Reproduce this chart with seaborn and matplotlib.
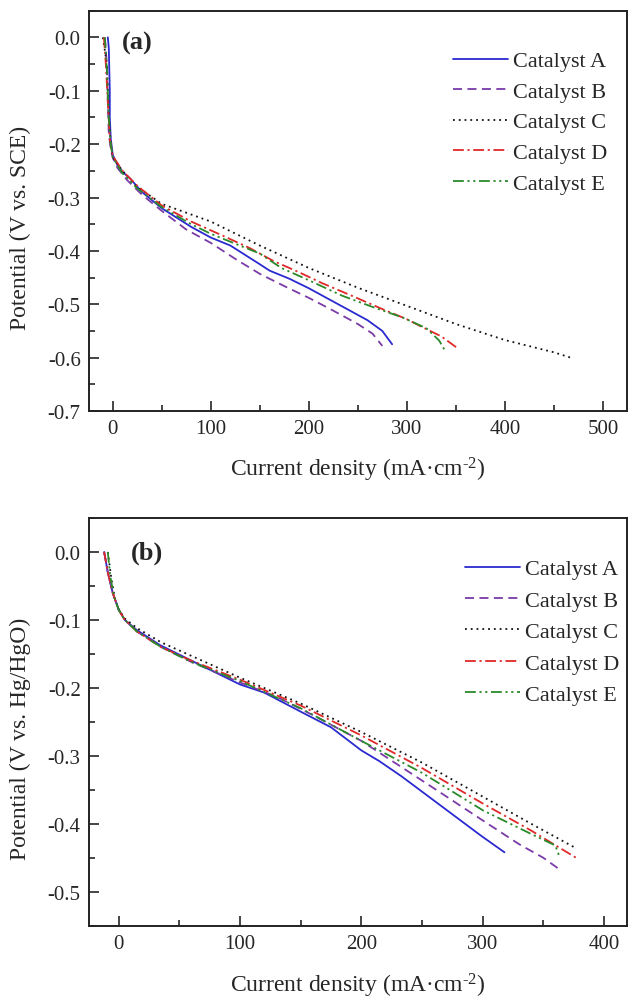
import numpy as np
import pandas as pd
import matplotlib
matplotlib.use("Agg")
import matplotlib.pyplot as plt
import seaborn as sns
from matplotlib.ticker import MultipleLocator, FuncFormatter

sns.set_style("ticks")
plt.rcParams["font.family"] = ["Liberation Serif", "DejaVu Serif"]
plt.rcParams["axes.unicode_minus"] = False
plt.rcParams["mathtext.fontset"] = "custom"
plt.rcParams["mathtext.rm"] = "Liberation Serif"
plt.rcParams["mathtext.it"] = "Liberation Serif:italic"
plt.rcParams["mathtext.bf"] = "Liberation Serif:bold"

catalysts = ["Catalyst A", "Catalyst B", "Catalyst C", "Catalyst D", "Catalyst E"]

# ---- Panel (a): potential vs SCE ----
a_A_x = [-5, -4, -3, -3, -2, 0, 5, 10, 18, 30, 50, 80, 100, 120, 150, 160, 180, 200, 220, 240, 260, 275, 285]
a_A_y = [0.0, -0.02, -0.1, -0.15, -0.19, -0.22, -0.24, -0.252, -0.265, -0.29, -0.32, -0.355, -0.375, -0.39, -0.425, -0.437, -0.452, -0.47, -0.49, -0.51, -0.53, -0.55, -0.575]
a_B_x = [-8, -6, -5, -4, -2, 0, 5, 15, 30, 50, 75, 100, 125, 150, 175, 200, 225, 250, 265, 275]
a_B_y = [0.0, -0.05, -0.12, -0.18, -0.21, -0.225, -0.245, -0.268, -0.295, -0.325, -0.36, -0.385, -0.415, -0.443, -0.466, -0.488, -0.512, -0.537, -0.555, -0.578]
a_C_x = [-10, -6, -4, -2, 0, 10, 25, 50, 100, 150, 200, 250, 300, 350, 400, 450, 467]
a_C_y = [0.0, -0.05, -0.15, -0.2, -0.225, -0.25, -0.28, -0.312, -0.345, -0.39, -0.432, -0.469, -0.503, -0.537, -0.567, -0.59, -0.6]
a_D_x = [-9, -7, -5, -3, 0, 10, 25, 50, 80, 114, 140, 164, 190, 213, 245, 275, 300, 316, 335, 353]
a_D_y = [0.0, -0.05, -0.12, -0.19, -0.222, -0.25, -0.278, -0.315, -0.345, -0.373, -0.395, -0.419, -0.44, -0.46, -0.485, -0.509, -0.528, -0.543, -0.56, -0.584]
a_E_x = [-8, -6, -4, -2, 0, 10, 25, 50, 80, 100, 131, 150, 172, 200, 234, 265, 296, 320, 333, 339]
a_E_y = [0.0, -0.06, -0.15, -0.2, -0.225, -0.255, -0.283, -0.318, -0.35, -0.368, -0.391, -0.405, -0.432, -0.455, -0.484, -0.505, -0.525, -0.545, -0.568, -0.587]

# ---- Panel (b): potential vs Hg/HgO ----
b_A_x = [-12, -9, -5, 0, 5, 15, 34, 60, 100, 120, 150, 175, 200, 215, 233, 266, 299, 318]
b_A_y = [0.0, -0.03, -0.06, -0.085, -0.1, -0.115, -0.137, -0.16, -0.195, -0.207, -0.235, -0.258, -0.292, -0.308, -0.33, -0.374, -0.418, -0.442]
b_B_x = [-12, -9, -5, 0, 5, 15, 35, 60, 100, 130, 160, 200, 230, 260, 300, 330, 350, 364]
b_B_y = [0.0, -0.03, -0.06, -0.085, -0.1, -0.117, -0.14, -0.162, -0.192, -0.213, -0.24, -0.278, -0.313, -0.348, -0.395, -0.43, -0.45, -0.468]
b_C_x = [-9, -6, -3, 0, 5, 15, 35, 60, 100, 150, 200, 250, 300, 340, 377]
b_C_y = [0.0, -0.04, -0.07, -0.085, -0.098, -0.112, -0.133, -0.153, -0.185, -0.223, -0.265, -0.31, -0.36, -0.4, -0.436]
b_D_x = [-12, -9, -5, 0, 5, 15, 35, 60, 100, 150, 200, 250, 300, 340, 377]
b_D_y = [0.0, -0.03, -0.06, -0.085, -0.1, -0.117, -0.14, -0.16, -0.188, -0.226, -0.27, -0.318, -0.37, -0.41, -0.45]
b_E_x = [-9, -7, -4, 0, 5, 15, 35, 60, 100, 150, 200, 250, 300, 340, 360, 363]
b_E_y = [0.0, -0.035, -0.065, -0.085, -0.1, -0.117, -0.14, -0.162, -0.19, -0.23, -0.278, -0.325, -0.38, -0.415, -0.432, -0.447]

x_ticks_a = [0, 100, 200, 300, 400, 500]
x_ticks_b = [0, 100, 200, 300, 400]

palette = {"Catalyst A": "#2a2ad0", "Catalyst B": "#7a3aa8", "Catalyst C": "#111111",
           "Catalyst D": "#e02828", "Catalyst E": "#2a8a2a"}
dashes = {"Catalyst A": "", "Catalyst B": (5, 3), "Catalyst C": (1, 2.2),
          "Catalyst D": (6, 2, 1.2, 2), "Catalyst E": (6, 2, 1.2, 2, 1.2, 2)}


def make_df(series):
    frames = []
    for name, (xs, ys) in zip(catalysts, series):
        frames.append(pd.DataFrame({"x": xs, "y": ys, "cat": name}))
    return pd.concat(frames, ignore_index=True)


df_a = make_df([(a_A_x, a_A_y), (a_B_x, a_B_y), (a_C_x, a_C_y), (a_D_x, a_D_y), (a_E_x, a_E_y)])
df_b = make_df([(b_A_x, b_A_y), (b_B_x, b_B_y), (b_C_x, b_C_y), (b_D_x, b_D_y), (b_E_x, b_E_y)])

W, H = 629, 1003
fig = plt.figure(figsize=(W / 100, H / 100), dpi=100)
ax1 = fig.add_axes([89 / W, 1 - 412 / H, 538 / W, 400.3 / H])
ax2 = fig.add_axes([89 / W, 1 - 926.7 / H, 538 / W, 407.7 / H])

fmt = FuncFormatter(lambda v, p: f"{v:.1f}" if abs(v) > 1e-9 else "0.0")


def draw(ax, df, xlim, ylim, xticks, ylabel, panel, leg_anchor, lab_xy, lspace):
    sns.lineplot(data=df, x="x", y="y", hue="cat", style="cat", palette=palette,
                 dashes=dashes, sort=False, estimator=None, linewidth=1.3, ax=ax)
    ax.set_xlim(*xlim)
    ax.set_ylim(*ylim)
    ax.set_xticks(xticks)
    ax.xaxis.set_minor_locator(MultipleLocator(50))
    ax.yaxis.set_major_locator(MultipleLocator(0.1))
    ax.yaxis.set_minor_locator(MultipleLocator(0.05))
    ax.yaxis.set_major_formatter(fmt)
    ax.tick_params(which="major", direction="in", length=7, width=1.2, labelsize=15, pad=6,
                   top=False, right=False)
    ax.tick_params(which="minor", direction="in", length=4, width=1.2, top=False, right=False)
    for s in ax.spines.values():
        s.set_linewidth(1.4)
        s.set_color("#222222")
    ax.set_xlabel("Current density (mA\u00b7cm$^{\\text{-}2}$)", fontsize=17)
    ax.set_ylabel(ylabel, fontsize=17)
    ax.xaxis.set_label_coords(0.5, -0.11)
    ax.yaxis.set_label_coords(-0.108, 0.46)
    leg = ax.get_legend()
    handles = leg.legend_handles
    labels = [t.get_text() for t in leg.get_texts()]
    leg.remove()
    ax.legend(handles, labels, loc="upper left", bbox_to_anchor=leg_anchor, frameon=False,
              fontsize=16, handlelength=2.48, handletextpad=0.22, labelspacing=lspace,
              borderpad=0, borderaxespad=0)
    ax.text(lab_xy[0], lab_xy[1], panel, transform=ax.transAxes, fontsize=19,
            fontweight="bold", ha="left", va="center")


draw(ax1, df_a, (-24.2, 524.6), (-0.7, 0.05), x_ticks_a, "Potential (V vs. SCE)", "(a)",
     (0.677, 0.9), (0.061, 0.92), 0.45)
draw(ax2, df_b, (-24.5, 419), (-0.55, 0.05), x_ticks_b, "Potential (V vs. Hg/HgO)", "(b)",
     (0.699, 0.9), (0.078, 0.917), 0.49)

fig.savefig("out.png", dpi=100)
